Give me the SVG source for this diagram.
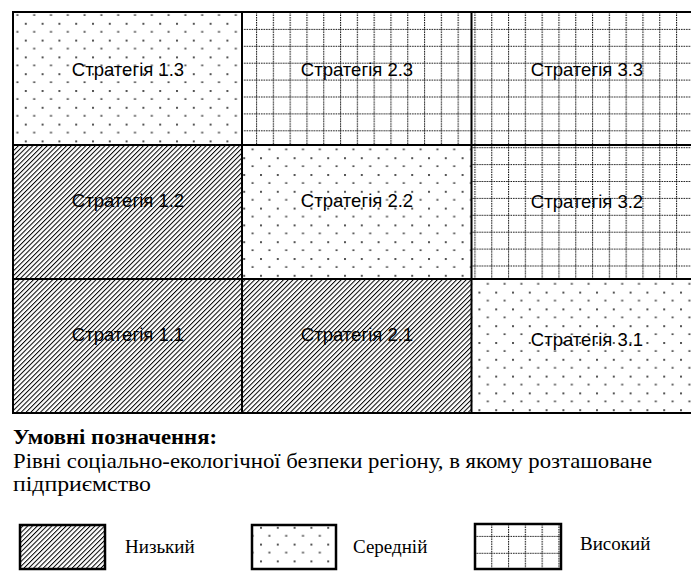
<svg xmlns="http://www.w3.org/2000/svg" width="691" height="571" viewBox="0 0 691 571">
<style>
.lbl{font-family:"Liberation Sans",Arial,sans-serif;font-size:18.5px;fill:#000;text-anchor:middle}
.leg{font-family:"Liberation Serif","Times New Roman",serif;font-size:19px;fill:#000}
.head{font-family:"Liberation Serif","Times New Roman",serif;font-size:21px;fill:#000}
.box{stroke:#000;stroke-width:2.5}
.bd{stroke:#000;stroke-width:2;fill:none}
</style>
<defs>
<pattern id="hatch" width="3.4" height="3.4" patternUnits="userSpaceOnUse" patternTransform="rotate(45)">
<rect width="3.4" height="3.4" fill="#fff"/>
<rect width="1.0" height="3.4" fill="#000"/>
</pattern>
<pattern id="dots" width="16.8" height="16.8" patternUnits="userSpaceOnUse" x="8" y="6">
<rect width="16.8" height="16.8" fill="#fff"/>
<rect x="0" y="0" width="2" height="2" fill="#555"/>
<rect x="8.4" y="8.4" width="2" height="1.2" fill="#000"/>
</pattern>
<pattern id="grid" width="16.8" height="16.9" patternUnits="userSpaceOnUse" x="4" y="12">
<rect width="16.8" height="16.9" fill="#fff"/>
<line x1="0.5" y1="0" x2="0.5" y2="16.9" stroke="#111" stroke-width="1.2" stroke-dasharray="1.5 1"/>
<line x1="0" y1="0.5" x2="16.8" y2="0.5" stroke="#111" stroke-width="1.2" stroke-dasharray="1.5 1"/>
</pattern>
</defs>
<rect width="691" height="571" fill="#fff"/>
<g id="cell-1-3"><rect x="13" y="12" width="229" height="133" fill="url(#dots)"/><text class="lbl" x="128" y="76">Стратегія 1.3</text></g>
<g id="cell-2-3"><rect x="242" y="12" width="229.5" height="133" fill="url(#grid)"/><text class="lbl" x="357" y="76">Стратегія 2.3</text></g>
<g id="cell-3-3"><rect x="471.5" y="12" width="230" height="133" fill="url(#grid)"/><text class="lbl" x="587" y="76">Стратегія 3.3</text></g>
<g id="cell-1-2"><rect x="13" y="145" width="229" height="134" fill="url(#hatch)"/><text class="lbl" x="128" y="207">Стратегія 1.2</text></g>
<g id="cell-2-2"><rect x="242" y="145" width="229.5" height="134" fill="url(#dots)"/><text class="lbl" x="357" y="207">Стратегія 2.2</text></g>
<g id="cell-3-2"><rect x="471.5" y="145" width="230" height="134" fill="url(#grid)"/><text class="lbl" x="587" y="208">Стратегія 3.2</text></g>
<g id="cell-1-1"><rect x="13" y="279" width="229" height="134" fill="url(#hatch)"/><text class="lbl" x="128" y="341">Стратегія 1.1</text></g>
<g id="cell-2-1"><rect x="242" y="279" width="229.5" height="134" fill="url(#hatch)"/><text class="lbl" x="357" y="341">Стратегія 2.1</text></g>
<g id="cell-3-1"><rect x="471.5" y="279" width="230" height="134" fill="url(#dots)"/><text class="lbl" x="587" y="346">Стратегія 3.1</text></g>
<g id="borders">
<rect class="bd" x="13" y="12" width="700" height="401"/>
<line class="bd" x1="242" y1="12" x2="242" y2="413"/>
<line class="bd" x1="471.5" y1="12" x2="471.5" y2="413"/>
<line class="bd" x1="13" y1="145" x2="700" y2="145"/>
<line class="bd" x1="13" y1="279" x2="700" y2="279"/>
</g>
<g id="legend">
<text class="head" x="13" y="444" font-weight="bold" textLength="204" lengthAdjust="spacingAndGlyphs">Умовні позначення:</text>
<text class="head" x="13" y="467.5" textLength="639" lengthAdjust="spacingAndGlyphs">Рівні соціально-екологічної безпеки регіону, в якому розташоване</text>
<text class="head" x="13" y="491" textLength="138" lengthAdjust="spacingAndGlyphs">підприємство</text>
<g id="legend-low"><rect class="box" x="20" y="525" width="85" height="44" fill="url(#hatch)"/><text class="leg" x="125" y="553">Низький</text></g>
<g id="legend-mid"><rect class="box" x="252" y="525" width="84" height="44" fill="url(#dots)"/><text class="leg" x="353" y="553">Середній</text></g>
<g id="legend-high"><rect class="box" x="475" y="524" width="86" height="45" fill="url(#grid)"/><text class="leg" x="580" y="550">Високий</text></g>
</g>
</svg>
